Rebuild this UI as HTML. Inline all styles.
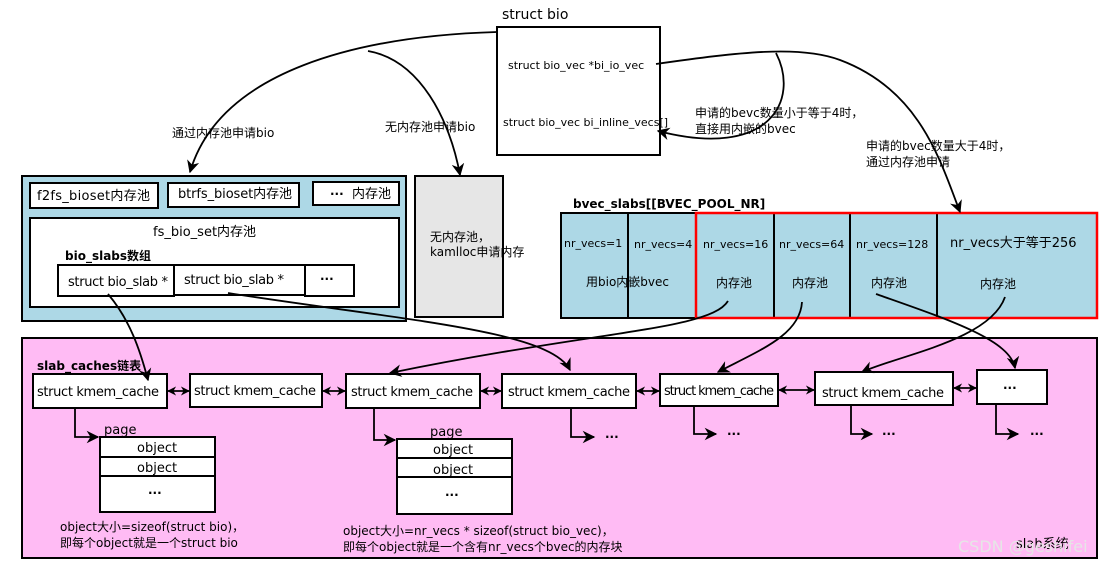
<!DOCTYPE html>
<html><head><meta charset="utf-8"><style>
body{margin:0;background:#fff}
svg text{font-family:"DejaVu Sans","Liberation Sans","Noto Sans CJK SC",sans-serif;font-size:12px;fill:#000}
</style></head><body>
<svg width="1115" height="567" viewBox="0 0 1115 567" xmlns="http://www.w3.org/2000/svg">
<defs><marker id="a" viewBox="0 0 10 10" refX="9" refY="5" markerWidth="7" markerHeight="7" orient="auto-start-reverse"><path d="M0,0 L10,5 L0,10 L3,5z" fill="#000"/></marker>
<marker id="b" viewBox="0 0 10 10" refX="9" refY="5" markerWidth="5" markerHeight="5" orient="auto-start-reverse"><path d="M0,0 L10,5 L0,10 L3,5z" fill="#000"/></marker></defs>
<g stroke="#000" stroke-width="2" fill="none">
<rect x="497" y="27" width="163" height="128" fill="#fff"/>
<rect x="22" y="176" width="384" height="145" fill="#add8e6"/>
<rect x="30" y="183" width="128" height="25" fill="#fff"/>
<rect x="168" y="183" width="131" height="24" fill="#fff"/>
<rect x="313" y="182" width="86" height="23" fill="#fff"/>
<rect x="30" y="218" width="369" height="89" fill="#fff"/>
<rect x="58" y="265" width="116" height="31" fill="#fff"/>
<rect x="174" y="265" width="131" height="30" fill="#fff"/>
<rect x="305" y="265" width="49" height="31" fill="#fff"/>
<rect x="415" y="176" width="88" height="141" fill="#e6e6e6"/>
<rect x="561" y="213" width="536" height="105" fill="#add8e6"/>
<line x1="628" y1="213" x2="628" y2="318"/><line x1="774" y1="213" x2="774" y2="318"/><line x1="850" y1="213" x2="850" y2="318"/><line x1="937" y1="213" x2="937" y2="318"/>
<rect x="696" y="213" width="401" height="105" stroke="#f00" stroke-width="2.5"/>
<rect x="22" y="338" width="1075" height="220" fill="#ffbbf4"/>
<rect x="33" y="374" width="134" height="34" fill="#fff"/>
<rect x="190" y="374" width="132" height="33" fill="#fff"/>
<rect x="346" y="374" width="134" height="34" fill="#fff"/>
<rect x="502" y="374" width="134" height="34" fill="#fff"/>
<rect x="660" y="374" width="118" height="32" fill="#fff"/>
<rect x="815" y="372" width="138" height="33" fill="#fff"/>
<rect x="977" y="370" width="70" height="34" fill="#fff"/>
<rect x="100" y="437" width="115" height="75" fill="#fff"/>
<line x1="100" y1="457" x2="215" y2="457"/><line x1="100" y1="476" x2="215" y2="476"/>
<rect x="397" y="439" width="115" height="75" fill="#fff"/>
<line x1="397" y1="458" x2="512" y2="458"/><line x1="397" y1="477" x2="512" y2="477"/>
</g>
<g stroke="#000" stroke-width="1.8" fill="none">
<line x1="168" y1="391" x2="189" y2="391" marker-start="url(#b)" marker-end="url(#b)"/>
<line x1="323" y1="391" x2="345" y2="391" marker-start="url(#b)" marker-end="url(#b)"/>
<line x1="481" y1="391" x2="501" y2="391" marker-start="url(#b)" marker-end="url(#b)"/>
<line x1="637" y1="391" x2="659" y2="391" marker-start="url(#b)" marker-end="url(#b)"/>
<line x1="779" y1="390" x2="814" y2="390" marker-start="url(#b)" marker-end="url(#b)"/>
<line x1="954" y1="388" x2="976" y2="388" marker-start="url(#b)" marker-end="url(#b)"/>
<polyline points="75,408 75,437 98,437" marker-end="url(#a)"/>
<polyline points="374,408 374,440 395,440" marker-end="url(#a)"/>
<polyline points="571,408 571,437 594,437" marker-end="url(#a)"/>
<polyline points="694,406 694,434 716,434" marker-end="url(#a)"/>
<polyline points="851,405 851,434 872,434" marker-end="url(#a)"/>
<polyline points="996,404 996,434 1018,434" marker-end="url(#a)"/>
<path d="M497,32 C360,36 220,70 190,172" marker-end="url(#a)"/>
<path d="M368,51 C420,60 450,120 460,175" marker-end="url(#a)"/>
<path d="M656,64 C740,52 800,45 840,60 C920,90 940,160 960,212" marker-end="url(#a)"/>
<path d="M776,53 C800,100 770,160 658,131" marker-end="url(#a)"/>
<path d="M108,294 C130,320 140,350 148,380" marker-end="url(#a)"/>
<path d="M228,293 C400,320 550,330 570,370" marker-end="url(#a)"/>
<path d="M728,301 C710,330 600,330 390,373" marker-end="url(#a)"/>
<path d="M802,302 C800,335 760,350 718,372" marker-end="url(#a)"/>
<path d="M876,294 C950,320 1010,340 1015,368" marker-end="url(#a)"/>
<path d="M1005,297 C990,340 900,355 862,372" marker-end="url(#a)"/>
</g>
<text x="502" y="19" style="font-size:14px">struct bio</text>
<text x="508" y="69" style="font-size:11px">struct bio_vec *bi_io_vec</text>
<text x="503" y="126" style="font-size:11px">struct bio_vec bi_inline_vecs[]</text>
<text x="172" y="137">通过内存池申请bio</text>
<text x="385" y="131">无内存池申请bio</text>
<text x="695" y="117">申请的bevc数量小于等于4时，</text>
<text x="695" y="133">直接用内嵌的bvec</text>
<text x="866" y="150">申请的bvec数量大于4时，</text>
<text x="866" y="166">通过内存池申请</text>
<text x="37" y="200" style="font-size:13px" textLength="113">f2fs_bioset内存池</text>
<text x="178" y="198" style="font-size:13px" textLength="114">btrfs_bioset内存池</text>
<text x="330" y="198" style="font-weight:bold">···</text><text x="352" y="198" style="font-size:13px">内存池</text>
<text x="153" y="236" style="font-size:13px">fs_bio_set内存池</text>
<text x="65" y="260" style="font-weight:bold">bio_slabs数组</text>
<text x="68" y="286" style="font-size:13px" textLength="100">struct bio_slab *</text>
<text x="184" y="284" style="font-size:13px" textLength="100">struct bio_slab *</text>
<text x="320" y="283" style="font-weight:bold">···</text>
<text x="430" y="241">无内存池，</text>
<text x="430" y="256">kamlloc申请内存</text>
<text x="573" y="208" style="font-weight:bold">bvec_slabs[[BVEC_POOL_NR]</text>
<text x="564" y="247" style="font-size:11px">nr_vecs=1</text>
<text x="634" y="248" style="font-size:11px">nr_vecs=4</text>
<text x="703" y="248" style="font-size:11px">nr_vecs=16</text>
<text x="779" y="248" style="font-size:11px">nr_vecs=64</text>
<text x="856" y="248" style="font-size:11px">nr_vecs=128</text>
<text x="950" y="247" style="font-size:13px">nr_vecs大于等于256</text>
<text x="586" y="286">用bio内嵌bvec</text>
<text x="716" y="287">内存池</text>
<text x="792" y="287">内存池</text>
<text x="871" y="287">内存池</text>
<text x="980" y="288">内存池</text>
<text x="37" y="370" style="font-weight:bold">slab_caches链表</text>
<text x="37" y="396" style="font-size:13px" textLength="122">struct kmem_cache</text>
<text x="194" y="395" style="font-size:13px" textLength="122">struct kmem_cache</text>
<text x="351" y="396" style="font-size:13px" textLength="122">struct kmem_cache</text>
<text x="508" y="396" style="font-size:13px" textLength="122">struct kmem_cache</text>
<text x="664" y="395" style="font-size:13px" textLength="110">struct kmem_cache</text>
<text x="822" y="397" style="font-size:13px" textLength="122">struct kmem_cache</text>
<text x="1003" y="392" style="font-weight:bold">···</text>
<text x="104" y="434" style="font-size:13px">page</text>
<text x="137" y="452" style="font-size:13px">object</text><text x="137" y="472" style="font-size:13px">object</text>
<text x="148" y="497" style="font-weight:bold">···</text>
<text x="430" y="436" style="font-size:13px">page</text>
<text x="433" y="454" style="font-size:13px">object</text><text x="433" y="474" style="font-size:13px">object</text>
<text x="445" y="499" style="font-weight:bold">···</text>
<g style="font-weight:bold"><text x="605" y="441">···</text><text x="727" y="438">···</text><text x="882" y="438">···</text><text x="1030" y="438">···</text></g>
<text x="60" y="531">object大小=sizeof(struct bio)，</text>
<text x="60" y="547">即每个object就是一个struct bio</text>
<text x="343" y="535">object大小=nr_vecs * sizeof(struct bio_vec)，</text>
<text x="343" y="551">即每个object就是一个含有nr_vecs个bvec的内存块</text>
<text x="1016" y="548" style="font-size:13px">slab系统</text>
<text x="958" y="552" style="font-size:16px;fill:#e6e6e6">CSDN @geshifei</text>
</svg>
</body></html>
